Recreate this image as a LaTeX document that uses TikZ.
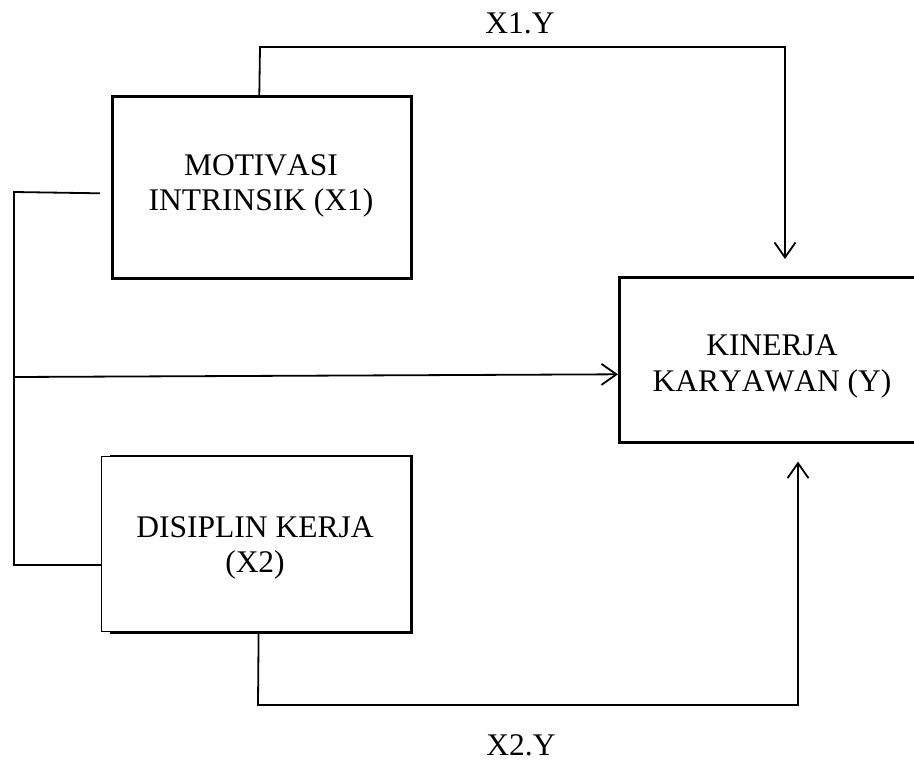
\documentclass[tikz,border=0pt]{standalone}
\usepackage{fontspec}
\setmainfont{Liberation Serif}[Kerning=Off]
\usetikzlibrary{arrows.meta,calc}
\begin{document}
\begin{tikzpicture}[x=1pt,y=-1pt,
  box/.style={draw, line width=2.6pt, inner sep=0pt, anchor=north west},
  thinbox/.style={draw, line width=1.2pt, inner sep=0pt, anchor=north west},
  conn/.style={line width=1.8pt},
  arr/.style={conn, -{Straight Barb[length=15pt,width=21pt,line width=1.8pt]}},
  lbl/.style={font=\fontsize{31.5}{35}\selectfont, inner sep=0pt, anchor=base}]
\useasboundingbox (0,0) rectangle (914,774);
% boxes
\node[box, minimum width=299pt, minimum height=182pt] (m) at (111,95) {};
\node[box, minimum width=308pt, minimum height=165pt] (k) at (618,276) {};
\node[thinbox, minimum width=309pt, minimum height=175pt] (d) at (101,456) {};
\draw[line width=2.6pt] ($(d.north west)+(9,0)$) -- (d.north east) -- (d.south east) -- ($(d.south west)+(9,0)$);
% texts
\node[lbl] (m1) at (261,175) {MOTIVASI};
\node[lbl] (m2) at (261,210) {INTRINSIK (X1)};
\node[lbl] (k1) at (772,355) {KINERJA};
\node[lbl] (k2) at (772,391) {KARYAWAN (Y)};
\node[lbl] (d1) at (255,537) {DISIPLIN KERJA};
\node[lbl] (d2) at (255,572) {(X2)};
\node[lbl] (l1) at (520,33) {X1.Y};
\node[lbl] (l2) at (521,755) {X2.Y};
% coordinates
\coordinate (c1) at (260,47);
\coordinate (c2) at (785,47);
\coordinate (L1) at (14,192);
\coordinate (L2) at (14,565);
\coordinate (H) at (14,377);
\coordinate (b1) at (258,705);
\coordinate (b2) at (798,705);
% connectors
\draw[arr, shorten >=17pt] ($(m.north)+(-2.5,0)$) -- (c1) -- (c2) -- (c2 |- k.north);
\draw[conn] ($(m.west)+(-11,6)$) -- (L1) -- (L2) -- (d.west |- L2);
\draw[arr] (H) -- ($(k.west)+(0,14.5)$);
\draw[arr, shorten >=18pt] ($(d.south)+(2.5,0)$) -- (b1) -- (b2) -- (b2 |- k.south);
\end{tikzpicture}
\end{document}
